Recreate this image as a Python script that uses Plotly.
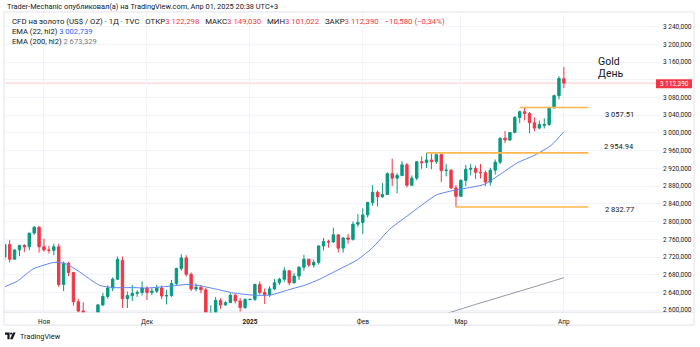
import plotly.graph_objects as go

W, H = 700, 347

# ---- daily bars, TVC gold CFD ----
dates = [
    "2024-10-22", "2024-10-23", "2024-10-24", "2024-10-25", "2024-10-28", "2024-10-29", "2024-10-30", "2024-10-31",
    "2024-11-01", "2024-11-04", "2024-11-05", "2024-11-06", "2024-11-07", "2024-11-08", "2024-11-11", "2024-11-12",
    "2024-11-13", "2024-11-14", "2024-11-15", "2024-11-18", "2024-11-19", "2024-11-20", "2024-11-21", "2024-11-22",
    "2024-11-25", "2024-11-26", "2024-11-27", "2024-11-28", "2024-11-29",
    "2024-12-02", "2024-12-03", "2024-12-04", "2024-12-05", "2024-12-06", "2024-12-09", "2024-12-10", "2024-12-11",
    "2024-12-12", "2024-12-13", "2024-12-16", "2024-12-17", "2024-12-18", "2024-12-19", "2024-12-20", "2024-12-23",
    "2024-12-24", "2024-12-26", "2024-12-27", "2024-12-30", "2024-12-31",
    "2025-01-01", "2025-01-02", "2025-01-03", "2025-01-06", "2025-01-07", "2025-01-08", "2025-01-09", "2025-01-10",
    "2025-01-13", "2025-01-14", "2025-01-15", "2025-01-16", "2025-01-17", "2025-01-20", "2025-01-21", "2025-01-22",
    "2025-01-23", "2025-01-24", "2025-01-27", "2025-01-28", "2025-01-29", "2025-01-30", "2025-01-31",
    "2025-02-03", "2025-02-04", "2025-02-05", "2025-02-06", "2025-02-07", "2025-02-10", "2025-02-11", "2025-02-12",
    "2025-02-13", "2025-02-14", "2025-02-17", "2025-02-18", "2025-02-19", "2025-02-20", "2025-02-21", "2025-02-24",
    "2025-02-25", "2025-02-26", "2025-02-27", "2025-02-28",
    "2025-03-03", "2025-03-04", "2025-03-05", "2025-03-06", "2025-03-07", "2025-03-10", "2025-03-11", "2025-03-12",
    "2025-03-13", "2025-03-14", "2025-03-17", "2025-03-18", "2025-03-19", "2025-03-20", "2025-03-21", "2025-03-24",
    "2025-03-25", "2025-03-26", "2025-03-27", "2025-03-28", "2025-03-31",
    "2025-04-01",
]

opens = [
    2720, 2748, 2715, 2736, 2746, 2743, 2774, 2787,
    2743, 2736, 2735, 2743, 2658, 2706, 2685, 2619, 2598, 2573, 2565, 2563, 2612, 2631, 2650, 2670,
    2712, 2626, 2633, 2638, 2640,
    2650, 2640, 2643, 2650, 2632, 2633, 2660, 2694, 2718, 2681, 2648, 2652, 2646, 2586, 2594, 2622,
    2612, 2617, 2634, 2621, 2606,
    2624, 2624.5, 2658, 2640, 2635, 2648, 2662, 2670, 2689, 2662, 2677, 2697, 2715, 2702, 2708, 2745,
    2755, 2754, 2770, 2740, 2763, 2760, 2794,
    2798, 2815, 2843, 2866, 2856, 2861, 2908, 2898, 2904, 2928, 2882, 2898, 2935, 2933, 2939, 2935,
    2951, 2915, 2916, 2876,
    2857, 2893, 2918, 2920, 2911, 2910, 2889, 2916, 2934, 2988, 2984, 3001, 3035, 3048, 3044, 3023,
    3011, 3017, 3019, 3057, 3084,
    3122.298,
]
highs = [
    2749, 2758, 2737, 2748, 2749, 2774, 2790, 2790,
    2761, 2745, 2750, 2750, 2710, 2709, 2686, 2626, 2618, 2583, 2581, 2614, 2639, 2656, 2674, 2721,
    2721, 2642, 2657, 2645, 2665,
    2654, 2650, 2657, 2656, 2646, 2668, 2696, 2726, 2724, 2685, 2660, 2657, 2650, 2611, 2630, 2627,
    2620, 2638, 2637, 2627, 2627,
    2625, 2660, 2665, 2649, 2654, 2670, 2673, 2697, 2690, 2684, 2699, 2725, 2716, 2714, 2746, 2763,
    2759, 2786, 2771, 2765, 2772, 2800, 2817,
    2830, 2845, 2882, 2870, 2887, 2911, 2942, 2909, 2936, 2932, 2904, 2936, 2947, 2954.94, 2953, 2954,
    2953, 2930, 2918, 2882,
    2895, 2928, 2930, 2926, 2930, 2915, 2921, 2940, 2990, 3004, 3001.5, 3038, 3050, 3057.51, 3047, 3035,
    3028, 3033, 3059.6, 3086.6, 3128,
    3149.03,
]
lows = [
    2712, 2708, 2714, 2722, 2731, 2735, 2770, 2730,
    2732, 2728, 2724, 2652, 2643, 2677, 2610, 2589, 2572, 2536, 2557, 2562, 2609, 2626, 2643, 2668,
    2605, 2605, 2621, 2630, 2633,
    2623, 2634, 2639, 2625, 2613, 2630, 2656, 2689, 2676, 2643, 2643, 2638, 2583, 2583, 2592, 2603,
    2610, 2617, 2615, 2597, 2603,
    2623, 2621, 2635, 2614, 2630, 2645, 2657, 2664, 2656, 2660, 2668, 2689, 2697, 2696, 2703, 2735,
    2741, 2752, 2730, 2730, 2750, 2757, 2788,
    2772, 2809, 2836, 2834, 2853, 2860, 2880, 2864, 2902, 2877, 2880, 2893, 2919, 2921, 2918, 2930,
    2889, 2902, 2873, 2832.77,
    2856, 2880, 2904, 2896, 2897, 2880, 2881, 2906, 2930, 2977, 2982, 2999, 3022, 3028, 2999, 3004,
    3008, 3010, 3016, 3054, 3076,
    3101.022,
]
closes = [
    2748, 2715, 2736, 2746, 2743, 2774, 2787, 2743,
    2736, 2735, 2743, 2658, 2706, 2685, 2619, 2598, 2573, 2565, 2563, 2612, 2631, 2650, 2670, 2715,
    2626, 2633, 2638, 2640, 2650,
    2640, 2643, 2650, 2632, 2633, 2660, 2694, 2718, 2681, 2648, 2652, 2646, 2586, 2594, 2622, 2612,
    2617, 2634, 2621, 2606, 2624,
    2624.5, 2658, 2640, 2635, 2648, 2662, 2670, 2689, 2662, 2677, 2697, 2715, 2702, 2708, 2745, 2755,
    2754, 2770, 2740, 2763, 2760, 2794, 2798,
    2815, 2843, 2866, 2856, 2861, 2908, 2898, 2904, 2928, 2882, 2898, 2935, 2933, 2939, 2935, 2951,
    2915, 2916, 2876, 2857,
    2893, 2918, 2920, 2911, 2910, 2889, 2916, 2934, 2988, 2984, 3001, 3035, 3048, 3044, 3023, 3011,
    3019, 3019, 3057, 3084, 3122.97,
    3112.39,
]

# EMA readings (bar position, value)
ema22_pos = [0, 2.5, 5.8, 10.2, 12.6, 15.3, 18.0, 19.4, 22.1, 26.2, 28.9, 34.4, 37.1, 39.8, 42.5, 46.6,
             50.6, 54.1, 56.1, 58.8, 61.4, 64.2, 68.3, 71.8, 74.9, 78.5, 82.0, 85.0, 88.0, 91.0, 94.4,
             97.8, 101.2, 104.6, 108.1, 111.4, 114]
ema22_val = [2653, 2665, 2693, 2708, 2704, 2686, 2665, 2656, 2651, 2651, 2650, 2655, 2658, 2655, 2649, 2639,
             2634, 2634, 2640, 2649, 2657, 2670, 2693, 2713, 2740, 2783, 2812, 2837, 2860, 2869, 2876,
             2884, 2908, 2933, 2950, 2972, 3002.739]
ema200_pos = [90, 96, 102, 108, 114]
ema200_val = [2592, 2613, 2633, 2653, 2673.329]

# horizontal levels drawn from these bars
level_vals = [3057.51, 2954.94, 2832.77]
level_from = ["2025-03-19", "2025-02-20", "2025-02-28"]
level_text = ["3 057.51", "2 954.94", "2 832.77"]
level_text_shift = [-7, 6, -2]

month_starts = ["2024-11-01", "2024-12-02", "2025-01-01", "2025-02-03", "2025-03-03", "2025-04-01"]
month_labels = ["Ноя", "Дек", "<b>2025</b>", "Фев", "Мар", "Апр"]

price_ticks = list(range(2600, 3241, 40))

UP, DOWN = "#089981", "#f23645"
TXT = "#131722"
GRID = "#f0f3fa"
FONT = "Roboto"

bar_x = list(range(len(dates)))
pos_of = {d: i for i, d in enumerate(dates)}


def px(x):
    return x / W


def py(y):
    return 1 - y / H


def ru(v):
    return f"{v:,.3f}".replace(",", "\u00a0").replace(".", ",")


def tick_fmt(v):
    # the scale value sitting under the last-price tag is hidden by it
    if abs(v - closes[-1]) < 12:
        return ""
    return f"{v // 1000}\u00a0{v % 1000:03d},000"


fig = go.Figure()
fig.add_trace(go.Candlestick(
    x=bar_x, open=opens, high=highs, low=lows, close=closes,
    increasing=dict(line=dict(color=UP, width=1), fillcolor=UP),
    decreasing=dict(line=dict(color=DOWN, width=1), fillcolor=DOWN),
    whiskerwidth=0, showlegend=False, hoverinfo="skip",
))
fig.add_trace(go.Scatter(x=ema22_pos, y=ema22_val, mode="lines",
                         line=dict(color="#5b84f5", width=1, shape="spline", smoothing=0.6),
                         showlegend=False, hoverinfo="skip"))
fig.add_trace(go.Scatter(x=ema200_pos, y=ema200_val, mode="lines",
                         line=dict(color="#9598a1", width=1, shape="spline"),
                         showlegend=False, hoverinfo="skip"))

last = len(dates) - 1
shapes = []
# frame of the chart panel and the time-axis separator
shapes.append(dict(type="rect", xref="paper", yref="paper", x0=px(4), x1=px(694), y0=py(327), y1=py(12),
                   line=dict(color="#e0e3eb", width=1), layer="below"))
shapes.append(dict(type="line", xref="paper", yref="paper", x0=px(4), x1=px(694), y0=py(314), y1=py(314),
                   line=dict(color="#e0e3eb", width=1), layer="below"))
# last price line
shapes.append(dict(type="line", xref="paper", yref="y", x0=px(5), x1=px(660), y0=closes[-1], y1=closes[-1],
                   line=dict(color="rgba(242,54,69,0.28)", width=1), layer="below"))
# levels
for v, d in zip(level_vals, level_from):
    shapes.append(dict(type="line", xref="x", yref="y", x0=pos_of[d], x1=last + 5, y0=v, y1=v,
                       line=dict(color="#ffb74d", width=1.6), layer="above"))
# last price tag on the scale
shapes.append(dict(type="rect", xref="paper", yref="paper", x0=px(656), x1=px(692), y0=py(88.8), y1=py(79.8),
                   fillcolor=DOWN, line=dict(width=0), layer="above"))


# TradingView mark
def path(points):
    s = "M" + " L".join(f"{px(x):.5f},{py(y):.5f}" for x, y in points) + " Z"
    return s


shapes.append(dict(type="path", xref="paper", yref="paper", fillcolor=TXT, line=dict(width=0),
                   path=path([(5, 334.5), (9.6, 334.5), (9.6, 341.3), (7.4, 341.3), (7.4, 336.6), (5, 336.6)])))
shapes.append(dict(type="circle", xref="paper", yref="paper", fillcolor=TXT, line=dict(width=0),
                   x0=px(10.0), x1=px(12.1), y0=py(336.6), y1=py(334.5)))
shapes.append(dict(type="path", xref="paper", yref="paper", fillcolor=TXT, line=dict(width=0),
                   path=path([(13.0, 334.5), (15.6, 334.5), (12.6, 341.3), (10.0, 341.3)])))

ann = []


def text(x, y, s, size=7.3, color=TXT, anchor="left", **kw):
    ann.append(dict(x=px(x), y=py(y), xref="paper", yref="paper", text=s, showarrow=False,
                    xanchor=anchor, yanchor="middle", font=dict(family=FONT, size=size, color=color), **kw))


text(5, 6.5, "Trader-Mechanic опубликовал(а) на TradingView.com, Апр 01, 2025 20:38 UTC+3", size=7.4)

chg = closes[-1] - closes[-2]
pct = chg / closes[-2] * 100
red = lambda s: f'<span style="color:{DOWN}">{s}</span>'
sp = "\u00a0\u00a0\u00a0"
line1 = ("CFD на золото (US$ / OZ) · 1Д · TVC" + sp + "ОТКР" + red(ru(opens[-1])) + sp + "МАКС" + red(ru(highs[-1]))
         + sp + "МИН" + red(ru(lows[-1])) + sp + "ЗАКР" + red(ru(closes[-1])) + sp
         + red(f"{ru(chg).replace('-', '−')} ({pct:.2f}%)".replace(".", ",").replace("-", "−")))
text(10, 21.5, line1, size=7.8)
text(10, 32, f'EMA (22, hl2) <span style="color:#2962ff">{ru(ema22_val[-1])}</span>', size=7.6)
text(10, 42, f'EMA (200, hl2) <span style="color:#787b86">{ru(ema200_val[-1])}</span>', size=7.6)

text(596, 62, "Gold", size=10.5)
text(596, 73.5, "День", size=10.5)

for v, t, sh in zip(level_vals, level_text, level_text_shift):
    ann.append(dict(x=px(619), y=v, xref="paper", yref="y", text=t, showarrow=False, yshift=sh,
                    xanchor="center", yanchor="middle", font=dict(family=FONT, size=7.5, color=TXT)))

text(674, 84.3, ru(closes[-1]), size=6.5, color="white", anchor="center")
text(17.5, 338, "TradingView", size=7.3)

fig.update_layout(
    width=W, height=H, margin=dict(l=0, r=0, t=0, b=0),
    paper_bgcolor="white", plot_bgcolor="white",
    shapes=shapes, annotations=ann, showlegend=False,
    font=dict(family=FONT, color=TXT),
    xaxis=dict(domain=[px(5), px(660)], range=[0.05, 133.6], rangeslider=dict(visible=False),
               tickvals=[pos_of[d] for d in month_starts], ticktext=month_labels,
               showgrid=True, gridcolor=GRID, gridwidth=1, zeroline=False, showline=False,
               ticks="", tickfont=dict(size=6.5, color=TXT, family=FONT), ticklabelstandoff=4),
    yaxis=dict(domain=[py(314), py(12)], range=[2595.5, 3273], side="right",
               tickvals=price_ticks, ticktext=[tick_fmt(v) for v in price_ticks],
               showgrid=True, gridcolor=GRID, gridwidth=1, zeroline=False, showline=False,
               ticks="", tickfont=dict(size=6.5, color=TXT, family=FONT), ticklabelstandoff=2),
)

fig.write_html("out.html")
